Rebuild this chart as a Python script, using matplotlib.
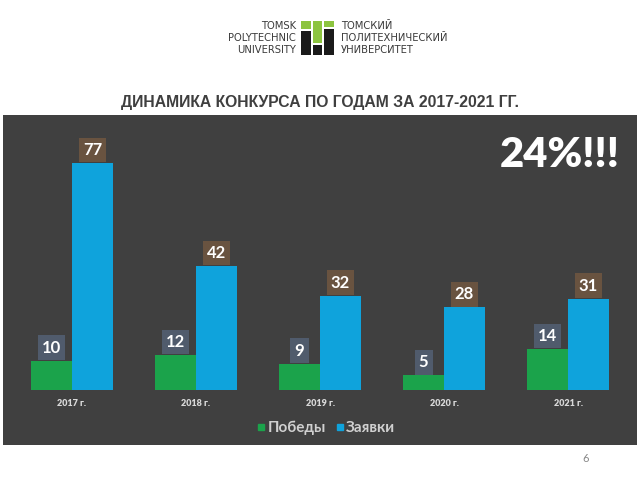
import numpy as np
import matplotlib.pyplot as plt
from matplotlib.patches import Rectangle
from matplotlib.lines import Line2D

years = ['2017 г.', '2018 г.', '2019 г.', '2020 г.', '2021 г.']
pobedy = np.array([10, 12, 9, 5, 14])
zayavki = np.array([77, 42, 32, 28, 31])

green = '#1ba34b'
blue = '#0fa3dc'
panel = '#404040'

plt.rcParams['font.family'] = ['Lato', 'DejaVu Sans']

fig = plt.figure(figsize=(6.4, 4.8), dpi=100)
fig.patch.set_facecolor('white')

W, H = 640, 480

# logo
def box(x0, y0, x1, y1, c):
    fig.patches.append(Rectangle((x0 / W, 1 - y1 / H), (x1 - x0) / W, (y1 - y0) / H,
                                 transform=fig.transFigure, fc=c, ec='none', zorder=1))

lg, lb = '#8cc43f', '#1a1a1a'
box(301, 21, 311, 29, lg)
box(301, 31, 311, 55, lb)
box(313, 21, 322, 43, lg)
box(313, 45, 322, 55, lb)
box(324, 21, 334, 27, lg)
box(324, 29, 334, 55, lb)
fig.text(296 / W, 1 - 38 / H, 'TOMSK\nPOLYTECHNIC\nUNIVERSITY', ha='right', va='center',
         fontsize=7.2, color='#3a3a3a', linespacing=1.2, family='DejaVu Sans')
fig.text(341 / W, 1 - 38 / H, 'ТОМСКИЙ\nПОЛИТЕХНИЧЕСКИЙ\nУНИВЕРСИТЕТ', ha='left', va='center',
         fontsize=7.2, color='#3a3a3a', linespacing=1.2, family='DejaVu Sans')

fig.text(320 / W, 1 - 103 / H, 'ДИНАМИКА КОНКУРСА ПО ГОДАМ ЗА 2017-2021 ГГ.',
         ha='center', va='center', fontsize=11.3, fontweight='bold', color='#3f3f3f',
         family='Liberation Sans')
fig.text(586 / W, 1 - 458 / H, '6', ha='center', va='center', fontsize=8, color='#888888')

# chart panel
ax = fig.add_axes([3 / W, 35 / H, 634 / W, 330 / H])
ax.set_facecolor(panel)
for s in ax.spines.values():
    s.set_visible(False)
ax.set_xticks([])
ax.set_yticks([])

x = np.arange(len(years))
bw = 0.33
ax.bar(x - bw / 2, pobedy, bw, color=green, label='Победы', zorder=2)
ax.bar(x + bw / 2, zayavki, bw, color=blue, label='Заявки', zorder=2)
ax.set_xlim(-0.556, 4.556)
ax.set_ylim(-18.6, 93.2)

for xi, v in zip(x, pobedy):
    ax.annotate(str(v), (xi - bw / 2, v), xytext=(0, 13), textcoords='offset pixels',
                ha='center', va='center', fontsize=12, fontweight='bold', color='white',
                bbox=dict(boxstyle='square,pad=0.25', fc='#536174', ec='none', alpha=0.85),
                zorder=3)
for xi, v in zip(x, zayavki):
    ax.annotate(str(v), (xi + bw / 2, v), xytext=(0, 13), textcoords='offset pixels',
                ha='center', va='center', fontsize=12, fontweight='bold', color='white',
                bbox=dict(boxstyle='square,pad=0.25', fc='#6e5641', ec='none', alpha=0.9),
                zorder=3)

for xi, yr in zip(x, years):
    ax.text(xi, -4.4, yr, ha='center', va='center', fontsize=6.5, fontweight='heavy',
            color='#d9d9d9')

ax.text(0.973, 0.88, '24%!!!', transform=ax.transAxes, ha='right', va='center',
        fontsize=30, fontweight='heavy', color='white')

handles = [Line2D([], [], marker='s', ls='', color=green, markersize=4),
           Line2D([], [], marker='s', ls='', color=blue, markersize=4)]
leg = ax.legend(handles, ['Победы', 'Заявки'], loc='center', bbox_to_anchor=(0.51, 0.052),
                ncol=2, frameon=False, handlelength=0.5, handletextpad=0.15,
                columnspacing=0.7, prop=dict(size=11, weight='bold'))
for t in leg.get_texts():
    t.set_color('#d0d0d0')

fig.savefig('out.png', dpi=100, facecolor='white')
